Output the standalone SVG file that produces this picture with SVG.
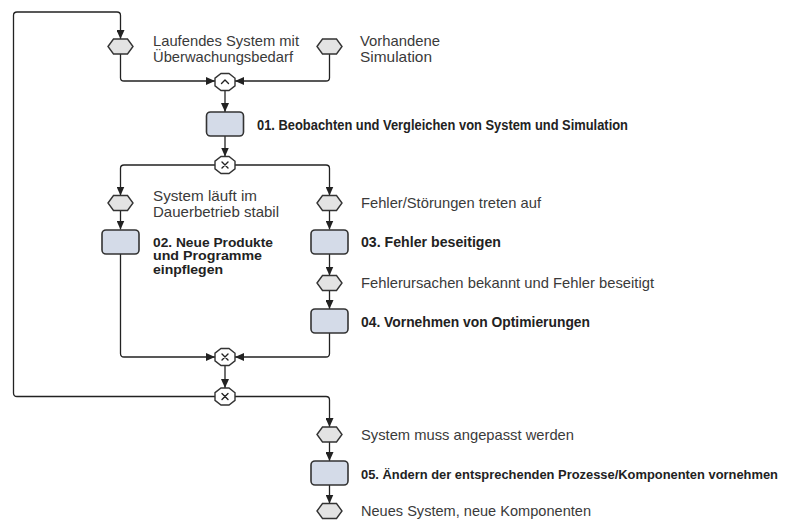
<svg xmlns="http://www.w3.org/2000/svg" width="807" height="521" viewBox="0 0 807 521">
<style>
.bg{fill:#fff}
.ev{fill:#e3e3e3;stroke:#333;stroke-width:1.4}
.fn{fill:#d4dbe8;stroke:#333;stroke-width:1.6}
.gw{fill:#fff;stroke:#333;stroke-width:1.4}
.sym{fill:none;stroke:#222;stroke-width:1.4;stroke-linecap:round;stroke-linejoin:round}
.con{fill:none;stroke:#222;stroke-width:1.3}
.t{font-family:"Liberation Sans Narrow","Liberation Sans",Arial,sans-serif;font-size:15px;fill:#3a3a3a}
.b{font-family:"Liberation Sans Narrow","Liberation Sans",Arial,sans-serif;font-size:14.5px;font-weight:bold;fill:#222}
</style>
<defs>
<marker id="ah" viewBox="0 0 9 8" markerWidth="9" markerHeight="8" refX="9" refY="4" orient="auto" markerUnits="userSpaceOnUse">
<path d="M0,0 L9,4 L0,8 z" fill="#222"/>
</marker>
<polygon id="hex" points="-12.5,0 -7,-7.5 7,-7.5 12.5,0 7,7.5 -7,7.5"/>
<polygon id="oct" points="10,-3.8 4,-8.5 -4,-8.5 -10,-3.8 -10,3.8 -4,8.5 4,8.5 10,3.8"/>
</defs>
<rect class="bg" x="0" y="0" width="807" height="521"/>

<g id="connectors">
<path class="con" marker-end="url(#ah)" d="M215,396.5 H17 Q13.5,396.5 13.5,393 V15.5 Q13.5,12 17,12 H117 Q120.5,12 120.5,15.5 V39"/>
<path class="con" marker-end="url(#ah)" d="M120.5,54 V78 Q120.5,81 124,81 H215"/>
<path class="con" marker-end="url(#ah)" d="M329.5,54 V78 Q329.5,81 326,81 H235"/>
<path class="con" marker-end="url(#ah)" d="M225,90.5 V112"/>
<path class="con" marker-end="url(#ah)" d="M225,136 V156.5"/>
<path class="con" marker-end="url(#ah)" d="M215,165 H124 Q120.5,165 120.5,168.5 V195.5"/>
<path class="con" marker-end="url(#ah)" d="M235,165 H326 Q329.5,165 329.5,168.5 V195.5"/>
<path class="con" marker-end="url(#ah)" d="M120.5,210.5 V229.5"/>
<path class="con" marker-end="url(#ah)" d="M329.5,210.5 V229.5"/>
<path class="con" marker-end="url(#ah)" d="M120.5,254 V353.5 Q120.5,357 124,357 H215"/>
<path class="con" marker-end="url(#ah)" d="M329.5,254 V275.5"/>
<path class="con" marker-end="url(#ah)" d="M329.5,290.5 V309"/>
<path class="con" marker-end="url(#ah)" d="M329.5,333 V353.5 Q329.5,357 326,357 H235"/>
<path class="con" marker-end="url(#ah)" d="M225,365.5 V388"/>
<path class="con" marker-end="url(#ah)" d="M235,396.5 H326 Q329.5,396.5 329.5,400 V427"/>
<path class="con" marker-end="url(#ah)" d="M329.5,442 V461"/>
<path class="con" marker-end="url(#ah)" d="M329.5,485 V503.5"/>
</g>

<g id="ev-laufend">
<use href="#hex" class="ev" x="120.5" y="46.5"/>
<text class="t"><tspan x="153" y="46" textLength="146" lengthAdjust="spacingAndGlyphs">Laufendes System mit</tspan><tspan x="153" y="61.5" textLength="140" lengthAdjust="spacingAndGlyphs">Überwachungsbedarf</tspan></text>
</g>
<g id="ev-simulation">
<use href="#hex" class="ev" x="329.5" y="46.5"/>
<text class="t"><tspan x="360" y="46" textLength="80" lengthAdjust="spacingAndGlyphs">Vorhandene</tspan><tspan x="360" y="61.5" textLength="72" lengthAdjust="spacingAndGlyphs">Simulation</tspan></text>
</g>
<g id="gw-and">
<use href="#oct" class="gw" x="225" y="82"/>
<polyline class="sym" points="221.5,83.5 225,80 228.5,83.5"/>
</g>
<g id="fn-01">
<rect class="fn" x="206.5" y="112" width="37" height="24" rx="4"/>
<text class="b" x="257" y="129.5" textLength="371" lengthAdjust="spacingAndGlyphs">01. Beobachten und Vergleichen von System und Simulation</text>
</g>
<g id="gw-xor1">
<use href="#oct" class="gw" x="225" y="165"/>
<path class="sym" d="M222,162 L228,168 M228,162 L222,168"/>
</g>
<g id="ev-stabil">
<use href="#hex" class="ev" x="120.5" y="203"/>
<text class="t"><tspan x="153" y="201" textLength="104" lengthAdjust="spacingAndGlyphs">System läuft im</tspan><tspan x="153" y="216.5" textLength="126" lengthAdjust="spacingAndGlyphs">Dauerbetrieb stabil</tspan></text>
</g>
<g id="ev-fehler">
<use href="#hex" class="ev" x="329.5" y="203"/>
<text class="t" x="361" y="207.5" textLength="180" lengthAdjust="spacingAndGlyphs">Fehler/Störungen treten auf</text>
</g>
<g id="fn-02">
<rect class="fn" x="102" y="230" width="37" height="24" rx="4"/>
<text class="b" style="font-size:13px"><tspan x="153" y="246.5" textLength="120" lengthAdjust="spacingAndGlyphs">02. Neue Produkte</tspan><tspan x="153" y="260" textLength="109" lengthAdjust="spacingAndGlyphs">und Programme</tspan><tspan x="153" y="273.5" textLength="70" lengthAdjust="spacingAndGlyphs">einpflegen</tspan></text>
</g>
<g id="fn-03">
<rect class="fn" x="311" y="230" width="37" height="24" rx="4"/>
<text class="b" x="361" y="247" textLength="140" lengthAdjust="spacingAndGlyphs">03. Fehler beseitigen</text>
</g>
<g id="ev-ursachen">
<use href="#hex" class="ev" x="329.5" y="283"/>
<text class="t" x="361" y="287.5" textLength="293" lengthAdjust="spacingAndGlyphs">Fehlerursachen bekannt und Fehler beseitigt</text>
</g>
<g id="fn-04">
<rect class="fn" x="311" y="309" width="37" height="24" rx="4"/>
<text class="b" x="361" y="326.5" textLength="229" lengthAdjust="spacingAndGlyphs">04. Vornehmen von Optimierungen</text>
</g>
<g id="gw-xor2">
<use href="#oct" class="gw" x="225" y="357"/>
<path class="sym" d="M222,354 L228,360 M228,354 L222,360"/>
</g>
<g id="gw-xor3">
<use href="#oct" class="gw" x="225" y="396.5"/>
<path class="sym" d="M222,393.5 L228,399.5 M228,393.5 L222,399.5"/>
</g>
<g id="ev-anpassen">
<use href="#hex" class="ev" x="329.5" y="434.5"/>
<text class="t" x="361" y="439.5" textLength="213" lengthAdjust="spacingAndGlyphs">System muss angepasst werden</text>
</g>
<g id="fn-05">
<rect class="fn" x="311" y="461" width="37" height="24" rx="4"/>
<text class="b" style="font-size:13.5px" x="361" y="478.5" textLength="417" lengthAdjust="spacingAndGlyphs">05. Ändern der entsprechenden Prozesse/Komponenten vornehmen</text>
</g>
<g id="ev-neu">
<use href="#hex" class="ev" x="329.5" y="511"/>
<text class="t" x="361" y="516" textLength="230" lengthAdjust="spacingAndGlyphs">Neues System, neue Komponenten</text>
</g>
</svg>
